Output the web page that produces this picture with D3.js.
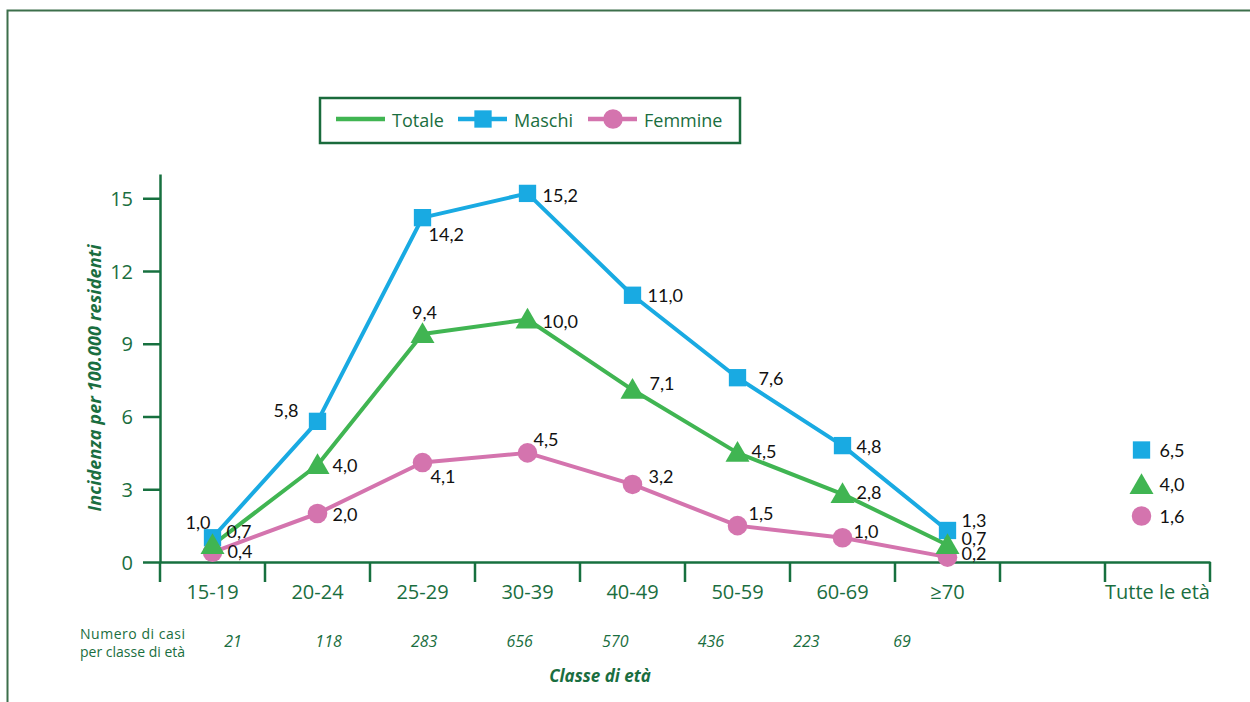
<html>
<head>
<meta charset="utf-8">
<script src="https://cdnjs.cloudflare.com/ajax/libs/d3/7.8.5/d3.min.js"></script>
<style>
  body { margin: 0; background: #fff; }
  .green { fill: #1a6e40; font-family: "Open Sans", sans-serif; }
  .lbl { fill: #111; font-family: Lato, sans-serif; font-size: 18px; }
</style>
</head>
<body>
<svg id="chart" width="1250" height="702"></svg>
<script>
// data
var classi = ["15-19", "20-24", "25-29", "30-39", "40-49", "50-59", "60-69", "≥70"];
var asseCat = ["15-19", "20-24", "25-29", "30-39", "40-49", "50-59", "60-69", "≥70", "", "Tutte le età"];
var totale = [0.7, 4.0, 9.4, 10.0, 7.1, 4.5, 2.8, 0.7];
var maschi = [1.0, 5.8, 14.2, 15.2, 11.0, 7.6, 4.8, 1.3];
var femmine = [0.4, 2.0, 4.1, 4.5, 3.2, 1.5, 1.0, 0.2];
var tutteEta = {maschi: 6.5, totale: 4.0, femmine: 1.6};
var casi = [21, 118, 283, 656, 570, 436, 223, 69];
var yTicks = [0, 3, 6, 9, 12, 15];

// label placement per point: [dx, dy, anchor]
var posMaschi = [[-2,-9,"end"],[-19,-4,"end"],[6,23,"start"],[15,9,"start"],[15,7,"start"],[21,7,"start"],[14,7,"start"],[14,-3,"start"]];
var posTotale = [[14,-7,"start"],[15,7,"start"],[2,-15,"middle"],[15,8,"start"],[17,0,"start"],[14,5,"start"],[14,5,"start"],[14,0,"start"]];
var posFemmine = [[15,6,"start"],[15,7,"start"],[8,20,"start"],[6,-7,"start"],[16,-1,"start"],[11,-6,"start"],[11,0,"start"],[14,3,"start"]];

var cBlue = "#19aae2", cGreen = "#40b552", cPink = "#d474ae", cAxis = "#17703f";

var svg = d3.select("#chart");

// frame
svg.append("path").attr("d", "M7.5,702 V10.5 H1250")
  .attr("fill", "none").attr("stroke", "#3c6f4b").attr("stroke-width", 2);

var x = d3.scaleBand().domain(asseCat).range([160, 1210]);
var y = d3.scaleLinear().domain([0, 16]).range([562, 174]);
var cx = function(i) { return x(classi[i]) + x.bandwidth() / 2; };

// y axis
var yAx = svg.append("g").attr("transform", "translate(160,0)")
  .call(d3.axisLeft(y).tickValues(yTicks).tickSize(17).tickPadding(10).tickSizeOuter(0));
yAx.select(".domain").attr("stroke", cAxis).attr("stroke-width", 2.5);
yAx.selectAll(".tick line").attr("stroke", cAxis).attr("stroke-width", 2.5);
yAx.selectAll(".tick text").attr("class", "green").style("font-size", "20px").attr("dy", "0.35em");

// x axis
var xAx = svg.append("g").attr("transform", "translate(0,562)")
  .call(d3.axisBottom(x).tickSize(0).tickPadding(23).tickSizeOuter(0));
xAx.select(".domain").attr("stroke", cAxis).attr("stroke-width", 2.5);
xAx.selectAll(".tick text").attr("class", "green").style("font-size", "20px");
svg.append("g").selectAll("line")
  .data(asseCat.map(function(d) { return x(d); }).concat([1210]))
  .enter().append("line")
  .attr("x1", function(d) { return d; }).attr("x2", function(d) { return d; })
  .attr("y1", 562).attr("y2", 582)
  .attr("stroke", cAxis).attr("stroke-width", 2.5);

// axis titles
svg.append("text").attr("class", "green")
  .attr("transform", "translate(101,378) rotate(-90)")
  .attr("text-anchor", "middle")
  .style("font-size", "18px").style("font-style", "italic").style("font-weight", "bold")
  .attr("textLength", 267)
  .text("Incidenza per 100.000 residenti");
svg.append("text").attr("class", "green")
  .attr("x", 600).attr("y", 682).attr("text-anchor", "middle")
  .style("font-size", "17px").style("font-style", "italic").style("font-weight", "bold")
  .text("Classe di età");

// numero di casi
svg.append("text").attr("class", "green").attr("x", 80).attr("y", 639)
  .style("font-size", "14px").attr("textLength", 105).text("Numero  di  casi");
svg.append("text").attr("class", "green").attr("x", 80).attr("y", 657)
  .style("font-size", "14px").text("per classe di età");
var xc = d3.scalePoint().domain(classi).range([233, 902]);
svg.append("g").selectAll("text").data(casi).enter().append("text")
  .attr("class", "green")
  .attr("x", function(d, i) { return xc(classi[i]); }).attr("y", 647)
  .attr("text-anchor", "middle")
  .style("font-size", "16px").style("font-style", "italic")
  .text(function(d) { return d; });

// lines
var line = d3.line().x(function(d, i) { return cx(i); }).y(function(d) { return y(d); });
[[maschi, cBlue], [totale, cGreen], [femmine, cPink]].forEach(function(s) {
  svg.append("path").datum(s[0]).attr("d", line)
    .attr("fill", "none").attr("stroke", s[1]).attr("stroke-width", 4).attr("stroke-linejoin", "round");
});

var sq = d3.symbol().type(d3.symbolSquare).size(300);
var tri = d3.symbol().type(d3.symbolTriangle).size(250);
var circ = d3.symbol().type(d3.symbolCircle).size(300);

function markers(vals, sym, col, dyOff) {
  svg.append("g").selectAll("path").data(vals).enter().append("path")
    .attr("d", sym)
    .attr("transform", function(d, i) { return "translate(" + cx(i) + "," + (y(d) + dyOff) + ")"; })
    .attr("fill", col);
}
markers(maschi, sq, cBlue, 0);
markers(femmine, circ, cPink, 0);
markers(totale, tri, cGreen, 2);

function labels(vals, pos) {
  svg.append("g").selectAll("text").data(vals).enter().append("text")
    .attr("class", "lbl")
    .attr("x", function(d, i) { return cx(i) + pos[i][0]; })
    .attr("y", function(d, i) { return y(d) + pos[i][1]; })
    .attr("text-anchor", function(d, i) { return pos[i][2]; })
    .text(function(d) { return d3.format(".1f")(d).replace(".", ","); });
}
labels(maschi, posMaschi);
labels(totale, posTotale);
labels(femmine, posFemmine);

// tutte le età
var xt = x("Tutte le età") + x.bandwidth() / 2 - 16;
var tutte = [[tutteEta.maschi, sq, cBlue, 450, 0], [tutteEta.totale, tri, cGreen, 484, 3], [tutteEta.femmine, circ, cPink, 516, 0]];
tutte.forEach(function(t) {
  svg.append("path").attr("d", t[1]).attr("fill", t[2])
    .attr("transform", "translate(" + xt + "," + (t[3] + t[4]) + ")");
  svg.append("text").attr("class", "lbl").attr("x", xt + 18).attr("y", t[3] + 7)
    .text(d3.format(".1f")(t[0]).replace(".", ","));
});

// legend
var lg = svg.append("g");
lg.append("rect").attr("x", 320).attr("y", 98).attr("width", 420).attr("height", 45)
  .attr("fill", "#fff").attr("stroke", "#1a6b3c").attr("stroke-width", 2.5);
var leg = [
  {name: "Totale", col: cGreen, sym: null, x0: 336},
  {name: "Maschi", col: cBlue, sym: sq, x0: 458},
  {name: "Femmine", col: cPink, sym: circ, x0: 588}
];
leg.forEach(function(l) {
  lg.append("line").attr("x1", l.x0).attr("x2", l.x0 + 49).attr("y1", 119).attr("y2", 119)
    .attr("stroke", l.col).attr("stroke-width", 4.5);
  if (l.sym) lg.append("path").attr("d", l.sym).attr("fill", l.col)
    .attr("transform", "translate(" + (l.x0 + 25) + ",119)");
  lg.append("text").attr("class", "green").attr("x", l.x0 + 56).attr("y", 127)
    .style("font-size", "18px").text(l.name);
});
</script>
</body>
</html>
